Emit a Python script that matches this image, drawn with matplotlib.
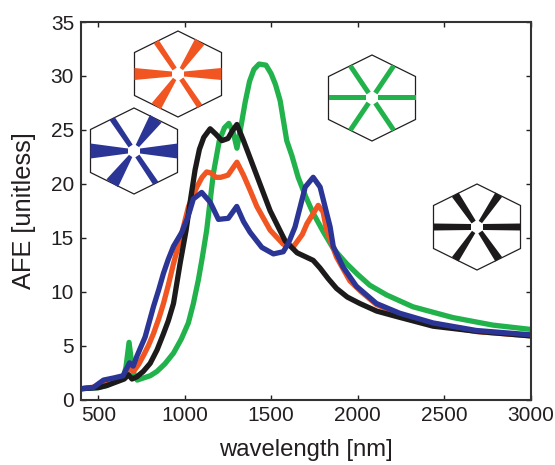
import numpy as np
import matplotlib
matplotlib.use('Agg')
import matplotlib.pyplot as plt
from matplotlib.patches import Polygon

W, H = 555, 465

green_x = [400, 500, 550, 600, 645, 660, 678, 696, 710, 725, 762, 800, 839, 885, 935, 980, 1021, 1050, 1079, 1103,
           1127, 1166, 1200, 1230, 1255, 1280, 1302, 1325, 1350, 1375, 1400, 1430, 1470, 1500, 1525, 1552, 1590,
           1620, 1656, 1700, 1742, 1800, 1859, 1936, 2000, 2070, 2167, 2319, 2550, 2781, 3000]
green_y = [1.0, 1.1, 1.3, 1.7, 2.0, 3.0, 5.3, 3.0, 2.2, 1.8, 2.0, 2.2, 2.6, 3.3, 4.3, 5.6, 7.1, 8.9, 11.1, 13.3,
           15.7, 21.0, 24.0, 25.2, 25.6, 24.8, 23.3, 25.3, 27.6, 29.5, 30.6, 31.1, 31.0, 30.2, 29.2, 27.7, 24.0,
           22.6, 20.6, 18.8, 17.3, 15.6, 14.0, 12.6, 11.6, 10.6, 9.7, 8.6, 7.6, 6.9, 6.5]

black_x = [400, 500, 550, 600, 650, 675, 695, 723, 760, 800, 840, 877, 905, 935, 973, 1008, 1035, 1060, 1085, 1110,
           1147, 1180, 1215, 1250, 1275, 1302, 1340, 1378, 1430, 1494, 1581, 1650, 1743, 1782, 1830, 1878, 1940,
           2013, 2110, 2224, 2436, 2700, 3000]
black_y = [1.0, 1.1, 1.3, 1.6, 1.9, 2.3, 1.9, 2.1, 2.6, 3.35, 4.6, 6.1, 7.3, 8.9, 12.6, 15.7, 18.7, 21.3, 23.2, 24.3,
           25.1, 24.6, 24.0, 24.2, 24.9, 25.5, 24.0, 22.4, 20.2, 17.5, 14.7, 13.6, 12.9, 12.2, 11.2, 10.3, 9.5,
           8.9, 8.2, 7.7, 6.8, 6.3, 5.9]

orange_x = [400, 500, 550, 600, 650, 675, 704, 735, 762, 790, 819, 850, 877, 905, 935, 983, 1022, 1070, 1100, 1127, 1152,
            1180, 1208, 1250, 1302, 1340, 1378, 1417, 1494, 1570, 1630, 1680, 1707, 1772, 1800, 1821, 1878, 1955, 2020,
            2109, 2243, 2436, 2686, 3000]
orange_y = [1.0, 1.2, 1.5, 1.8, 2.1, 2.9, 2.6, 3.3, 4.1, 5.0, 6.1, 7.5, 8.9, 10.6, 12.6, 15.4, 17.9, 19.7, 20.6, 21.1, 21.0,
            20.6, 20.6, 20.8, 22.0, 20.8, 19.4, 17.9, 15.7, 14.4, 14.2, 15.3, 16.3, 18.0, 17.4, 15.7, 13.2, 11.0, 10.0,
            8.8, 7.9, 7.0, 6.3, 5.9]

blue_x = [400, 470, 530, 590, 643, 681, 702, 723, 771, 819, 850, 877, 905, 935, 983, 1020, 1050, 1098, 1147, 1195, 1252, 1301,
          1340, 1378, 1446, 1513, 1570, 1600, 1638, 1670, 1697, 1743, 1783, 1841, 1859, 1915, 1993, 2109, 2243,
          2436, 2686, 3000]
blue_y = [1.0, 1.1, 1.8, 2.0, 2.2, 3.4, 3.1, 4.0, 5.8, 8.6, 10.2, 11.7, 13.0, 14.2, 15.5, 17.0, 18.6, 19.2, 18.3, 16.7, 16.8, 17.9,
          16.5, 15.5, 14.1, 13.5, 13.7, 14.5, 16.0, 18.0, 19.7, 20.6, 19.7, 16.0, 14.2, 12.3, 10.5, 8.9, 8.0,
          7.1, 6.4, 6.0]

c_green = '#22b24c'
c_black = '#1c1a1a'
c_orange = '#f15522'
c_blue = '#2b3595'
c_text = '#231f20'

x_ticks = [500, 1000, 1500, 2000, 2500, 3000]
y_ticks = [0, 5, 10, 15, 20, 25, 30, 35]

# inset hexagons: centre x, centre y (pixels from top left), colour
hex_centres = [(178, 74), (134, 151), (372, 98), (477, 227)]
hex_colors = [c_orange, c_blue, c_green, c_black]
# spoke widths (inner, outer), going round the six edge midpoints
hex_widths = [
    [(5, 12), (5, 6), (4, 11), (5, 12), (5, 6), (4, 11)],
    [(5, 15), (5, 6), (4, 14), (5, 15), (5, 6), (4, 14)],
    [(5, 5), (5, 5), (5, 5), (5, 5), (5, 5), (5, 5)],
    [(6, 7), (5, 8), (4, 8), (6, 7), (5, 8), (4, 8)],
]

plt.rcParams['font.family'] = ['Liberation Sans', 'DejaVu Sans']

fig = plt.figure(figsize=(W / 100, H / 100), dpi=100)
ax = fig.add_axes([81 / W, 1 - 399.5 / H, 449.5 / W, 377.5 / H])

ax.plot(green_x, green_y, color=c_green, lw=3.8, solid_joinstyle='round')
ax.plot(orange_x, orange_y, color=c_orange, lw=3.8, solid_joinstyle='round')
ax.plot(black_x, black_y, color=c_black, lw=3.8, solid_joinstyle='round')
ax.plot(blue_x, blue_y, color=c_blue, lw=3.8, solid_joinstyle='round')

ax.set_xlim(400, 3000)
ax.set_ylim(0, 35)
ax.set_xticks(x_ticks)
ax.set_yticks(y_ticks)
ax.tick_params(direction='in', top=True, right=True, length=3.5, width=1, labelsize=15, colors=c_text, pad=5)
for s in ax.spines.values():
    s.set_linewidth(1.5)
    s.set_color('#333333')
ax.set_xlabel('wavelength [nm]', fontsize=17.2, color=c_text, va='center')
ax.set_ylabel('AFE [unitless]', fontsize=18.3, color=c_text, va='center')
ax.xaxis.set_label_coords(0.5, (399.5 - 450) / 377.5)
ax.yaxis.set_label_coords((24 - 81) / 449.5, 0.5)

# overlay in pixel coordinates for the hexagon drawings
ov = fig.add_axes([0, 0, 1, 1], facecolor='none')
ov.set_xlim(0, W)
ov.set_ylim(H, 0)
ov.axis('off')

hw, hh = 43.5, 43
hex_shape = np.array([[hw, -hh / 2], [hw, hh / 2], [0, hh], [-hw, hh / 2], [-hw, -hh / 2], [0, -hh]])
for (cx, cy), col, widths in zip(hex_centres, hex_colors, hex_widths):
    c = np.array([cx, cy])
    ov.add_patch(Polygon(c + hex_shape, closed=True, fc='white', ec=c_text, lw=0.9, zorder=2))
    for i, (w0, w1) in enumerate(widths):
        mid = (hex_shape[i] + hex_shape[(i + 1) % 6]) / 2
        d = mid / np.hypot(*mid)
        n = np.array([-d[1], d[0]])
        spoke = [c + d * 6 + n * w0 / 2, c + mid + n * w1 / 2,
                 c + mid - n * w1 / 2, c + d * 6 - n * w0 / 2]
        ov.add_patch(Polygon(spoke, closed=True, fc=col, ec='none', zorder=3))

fig.savefig('out.png', dpi=100)
